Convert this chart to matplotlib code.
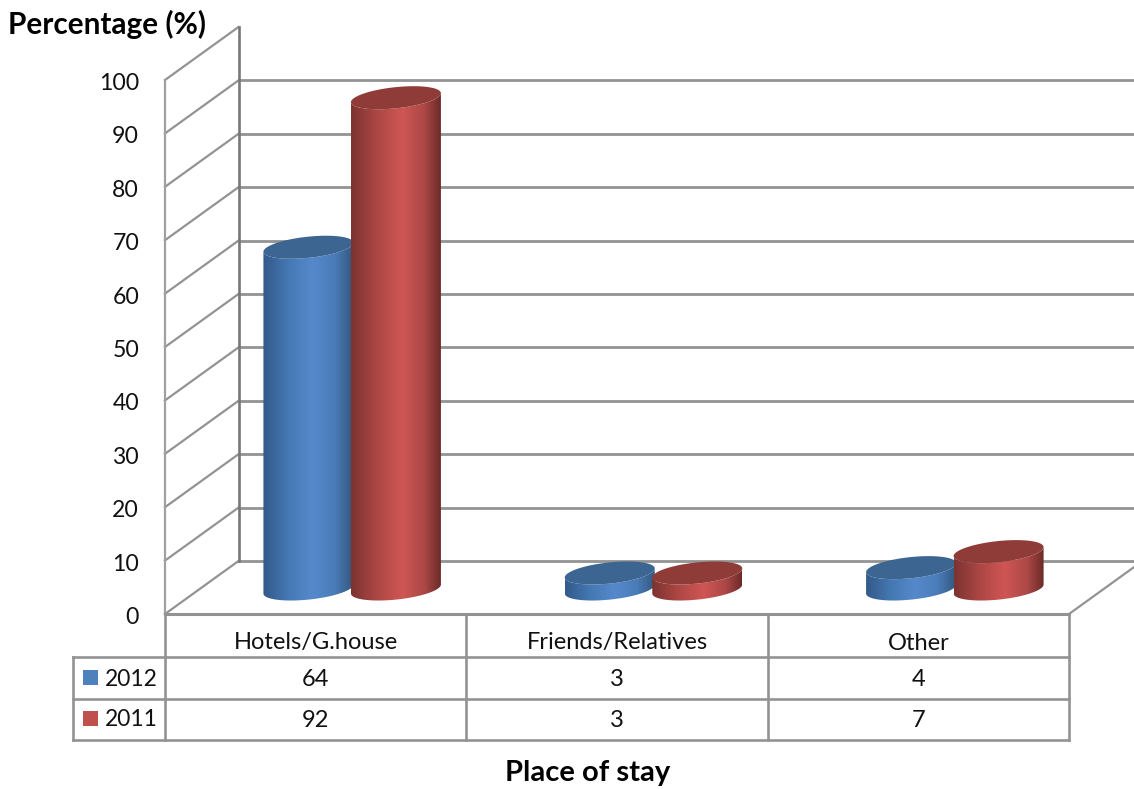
import numpy as np
import matplotlib
matplotlib.use("Agg")
import matplotlib.pyplot as plt
from matplotlib.colors import LinearSegmentedColormap
from matplotlib.patches import Polygon, Rectangle

# Place of stay, percentage per year
categories = ["Hotels/G.house", "Friends/Relatives", "Other"]
series_names = ["2012", "2011"]
values_2012 = [64, 3, 4]
values_2011 = [92, 3, 7]
y_ticks = [0, 10, 20, 30, 40, 50, 60, 70, 80, 90, 100]

plt.rcParams["font.family"] = ["Lato", "DejaVu Sans"]

# geometry of the fake 3D box, in pixels
LEFT, RIGHT, FLOOR, TOP = 165, 1069, 614, 80
DX, DY = 73.5, 53
UNIT = (FLOOR - TOP) / 100
COL = (RIGHT - LEFT) / 3
BASE = 589
HALF_W, SHEAR, ELL_B = 45, 0.1, 10.6
GRID = "#939393"
TEXT = "#111111"


def front_y(v):
    return FLOOR - v * UNIT


def ellipse(cx, cy, t):
    x = HALF_W * np.cos(t)
    return cx + x, cy + ELL_B * np.sin(t) - SHEAR * x


def cylinder(ax, cx, value, cmap, top_color, z):
    top = BASE - value * UNIT
    t_front = np.linspace(np.pi, 0, 80)
    xb, yb = ellipse(cx, BASE, t_front)
    xt, yt = ellipse(cx, top, t_front[::-1])
    body = Polygon(np.column_stack([np.r_[xb, xt], np.r_[yb, yt]]),
                   closed=True, fc="none", ec="none", zorder=z)
    ax.add_patch(body)
    grad = np.linspace(0, 1, 256).reshape(1, -1)
    im = ax.imshow(grad, cmap=cmap, aspect="auto", zorder=z,
                   extent=[cx - HALF_W, cx + HALF_W, BASE + 20, top - 20])
    im.set_clip_path(body)
    xe, ye = ellipse(cx, top, np.linspace(0, 2 * np.pi, 160))
    ax.add_patch(Polygon(np.column_stack([xe, ye]), closed=True,
                         fc=top_color, ec="none", zorder=z + 0.1))


fig = plt.figure(figsize=(11.34, 7.89), dpi=100)
ax = fig.add_axes([0, 0, 1, 1])

# back wall gridlines and side wall
for v in y_ticks:
    y = front_y(v)
    if v < 100:
        ax.plot([LEFT + DX, 1134], [y - DY, y - DY], color=GRID, lw=2, zorder=1)
    ax.plot([LEFT, LEFT + DX], [y, y - DY], color=GRID, lw=1.6, zorder=1)
    ax.text(139, y + 3.5, str(v), ha="right", va="center", fontsize=16.6, color=TEXT)
ax.plot([LEFT + DX, LEFT + DX], [front_y(100) - DY, FLOOR - DY], color="#777777", lw=1.9, zorder=1)
ax.plot([LEFT, LEFT], [front_y(100), FLOOR], color="#a0a0a0", lw=1.6, zorder=1)
ax.plot([RIGHT, RIGHT + DX], [FLOOR, FLOOR - DY], color=GRID, lw=1.6, zorder=1)

blue_map = LinearSegmentedColormap.from_list(
    "blue_cyl", [(0, "#33598a"), (0.3, "#467ab5"), (0.55, "#5589cc"), (0.8, "#4a7cb8"), (1, "#34587f")])
red_map = LinearSegmentedColormap.from_list(
    "red_cyl", [(0, "#7c3331"), (0.3, "#ae4845"), (0.57, "#cf5654"), (0.82, "#ab4846"), (1, "#6b2a28")])

for i in range(len(categories)):
    mid = LEFT + COL * (i + 0.5) + DX / 2
    cylinder(ax, mid - 44, values_2012[i], blue_map, "#3d6591", 2 + i)
    cylinder(ax, mid + 43.5, values_2011[i], red_map, "#8f3c39", 2.5 + i)

# data table below the floor
ROW1, ROW2, ROW3 = 657, 699, 740
TAB_LEFT = 73
ax.plot([LEFT, RIGHT], [FLOOR, FLOOR], color=GRID, lw=2.2, zorder=6)
for row in [ROW1, ROW2, ROW3]:
    ax.plot([TAB_LEFT, RIGHT], [row, row], color=GRID, lw=1.9, zorder=6)
ax.plot([TAB_LEFT, TAB_LEFT], [ROW1, ROW3], color=GRID, lw=1.9, zorder=6)
for k in range(4):
    ax.plot([LEFT + COL * k] * 2, [FLOOR, ROW3], color=GRID, lw=1.9, zorder=6)

for i, name in enumerate(categories):
    cx = LEFT + COL * (i + 0.5)
    ax.text(cx, 643, name, ha="center", va="center", fontsize=17, color=TEXT)
    ax.text(cx, 679.5, str(values_2012[i]), ha="center", va="center", fontsize=17, color=TEXT)
    ax.text(cx, 720.5, str(values_2011[i]), ha="center", va="center", fontsize=17, color=TEXT)

for name, y, color in zip(series_names, [677.5, 718.5], ["#4f81bd", "#c0504d"]):
    ax.add_patch(Rectangle((83, y - 7.5), 15, 15, fc=color, ec="none", zorder=6))
    ax.text(105, y + 1.5, name, ha="left", va="center", fontsize=16.4, color=TEXT)

ax.text(8, 24, "Percentage (%)", ha="left", va="center", fontsize=21.4, fontweight="bold")
ax.text(588, 773, "Place of stay", ha="center", va="center", fontsize=21, fontweight="bold")

ax.set_xlim(0, 1134)
ax.set_ylim(789, 0)
ax.axis("off")
fig.savefig("out.png", dpi=100)
